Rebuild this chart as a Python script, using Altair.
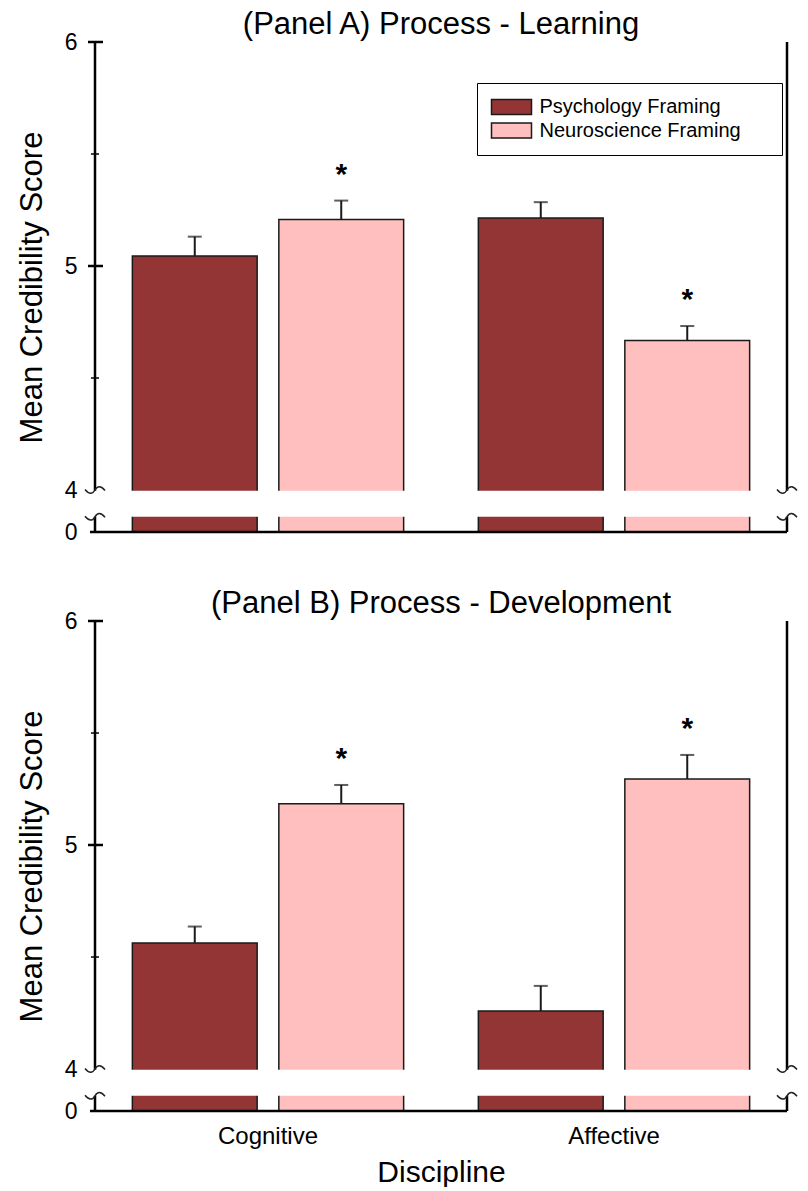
import altair as alt
import pandas as pd

# ---------------- data ----------------
panel_titles = ["(Panel A) Process - Learning", "(Panel B) Process - Development"]
disciplines = ["Cognitive", "Affective"]
framings = ["Psychology Framing", "Neuroscience Framing"]

a_psych_mean = [5.045, 5.214]
a_psych_err = [0.086, 0.071]
a_neuro_mean = [5.208, 4.667]
a_neuro_err = [0.084, 0.065]

b_psych_mean = [4.563, 4.259]
b_psych_err = [0.073, 0.112]
b_neuro_mean = [5.184, 5.295]
b_neuro_err = [0.084, 0.107]

psych_sig = [False, False]
neuro_sig = [True, True]

y_label_values = [0, 4, 5, 6]
y_major_ticks = [5, 6]
y_minor_ticks = [4.5, 5.5]

colors = ["#933535", "#FFBFBF"]

# ---------------- layout constants ----------------
W, H = 692, 490
BREAK_PX = 42
GAP_LO, GAP_HI = 1.45, 3.93
FONT = "Liberation Sans"
INK = "#1a1a1a"
SQUIGGLE = "M-1,-0.05C-0.6,0.45 -0.25,0.45 0,0C0.25,-0.45 0.6,-0.45 1,0.05"


def make_df(psych_mean, psych_err, neuro_mean, neuro_err):
    rows = []
    for i, d in enumerate(disciplines):
        rows.append({"Discipline": d, "Framing": framings[0], "Mean": psych_mean[i],
                     "Top": psych_mean[i] + psych_err[i], "Sig": psych_sig[i]})
        rows.append({"Discipline": d, "Framing": framings[1], "Mean": neuro_mean[i],
                     "Top": neuro_mean[i] + neuro_err[i], "Sig": neuro_sig[i]})
    return pd.DataFrame(rows)


def panel(df, title, show_x, show_legend):
    yscale = alt.Scale(domain=[0, 4, 6], range=[H, H - BREAK_PX, 0], nice=False, zero=False)
    yaxis = alt.Axis(values=y_label_values, format="d", domain=False, ticks=False, grid=False,
                     labelPadding=18, labelFontSize=23, labelFont=FONT, labelColor="black",
                     title="Mean Credibility Score", titleFontSize=31, titleFont=FONT,
                     titleFontWeight="normal", titleColor="black", titlePadding=16)
    if show_x:
        xaxis = alt.Axis(domain=False, ticks=False, labelAngle=0, labelPadding=13,
                         labelFontSize=24, labelFont=FONT, labelColor="black",
                         title="Discipline", titleFontSize=30, titleFont=FONT,
                         titleFontWeight="normal", titleColor="black", titlePadding=9)
    else:
        xaxis = None
    x = alt.X("Discipline:N", sort=disciplines, axis=xaxis,
              scale=alt.Scale(domain=disciplines, paddingInner=0, paddingOuter=0))
    xo = alt.XOffset("Framing:N", sort=framings,
                     scale=alt.Scale(domain=framings, paddingInner=0.148, paddingOuter=0.255))
    if show_legend:
        legend = alt.Legend(orient="none", legendX=382, legendY=41,
                            title=" ", titleOrient="right", titlePadding=27, titleFontSize=2,
                            symbolType="M-2.667,-1H2.667V1H-2.667Z", symbolSize=225,
                            symbolStrokeColor=INK, symbolStrokeWidth=1.5,
                            symbolOffset=10.5, labelOffset=18, labelLimit=500,
                            labelFontSize=20, labelFont=FONT, labelColor="black",
                            strokeColor="black", fillColor="white", padding=14, rowPadding=1.5)
    else:
        legend = None
    color = alt.Color("Framing:N", sort=framings,
                      scale=alt.Scale(domain=framings, range=colors), legend=legend)

    base = alt.Chart(df)
    bars = base.mark_bar(stroke=INK, strokeWidth=1.5).encode(
        x=x, xOffset=xo, y=alt.Y("Mean:Q", scale=yscale, axis=yaxis), y2=alt.datum(0), color=color)
    err = base.mark_rule(color=INK, strokeWidth=2).encode(
        x=x, xOffset=xo, y=alt.Y("Mean:Q", scale=yscale), y2="Top:Q")
    cap = base.mark_tick(orient="horizontal", size=14, thickness=2, color=INK).encode(
        x=x, xOffset=xo, y=alt.Y("Top:Q", scale=yscale))
    star = base.transform_filter("datum.Sig").mark_text(
        text="*", fontSize=30, font=FONT, fontWeight="bold", color="black",
        baseline="alphabetic", dy=-17).encode(
        x=x, xOffset=xo, y=alt.Y("Top:Q", scale=yscale))

    one = alt.Chart(pd.DataFrame({"k": [0]}))
    left_line = one.mark_rule(strokeWidth=2.5, color="black").encode(
        x=alt.value(0), y=alt.datum(0), y2=alt.datum(6))
    right_line = one.mark_rule(strokeWidth=2.5, color="black").encode(
        x=alt.value(W), y=alt.datum(0), y2=alt.datum(6))
    base_line = one.mark_rule(strokeWidth=2.5, color="black").encode(
        x=alt.value(-5), x2=alt.value(W), y=alt.datum(0))
    major = alt.Chart(pd.DataFrame({"t": y_major_ticks})).mark_rule(
        strokeWidth=2.5, color="black").encode(x=alt.value(-7), x2=alt.value(8), y="t:Q")
    minor = alt.Chart(pd.DataFrame({"t": y_minor_ticks})).mark_rule(
        strokeWidth=1.5, color="black").encode(x=alt.value(-4), x2=alt.value(4), y="t:Q")
    gap = one.mark_rect(color="white").encode(
        x=alt.value(-11), x2=alt.value(W + 3), y=alt.datum(GAP_LO), y2=alt.datum(GAP_HI))
    sq_df = alt.Chart(pd.DataFrame({"s": [4, GAP_LO]}))
    sq_left = sq_df.mark_point(shape=SQUIGGLE, size=400, filled=False, stroke="#222",
                               strokeWidth=1.5, opacity=1).encode(x=alt.value(0), y="s:Q")
    sq_right = sq_df.mark_point(shape=SQUIGGLE, size=400, filled=False, stroke="#222",
                                strokeWidth=1.5, opacity=1).encode(x=alt.value(W), y="s:Q")

    return alt.layer(bars, err, cap, star, left_line, right_line, base_line, major, minor,
                     gap, sq_left, sq_right).properties(
        width=W, height=H,
        title=alt.TitleParams(title, fontSize=31, font=FONT, fontWeight="normal",
                              color="black", anchor="middle", frame="group", offset=-9.5))


df_a = make_df(a_psych_mean, a_psych_err, a_neuro_mean, a_neuro_err)
df_b = make_df(b_psych_mean, b_psych_err, b_neuro_mean, b_neuro_err)

chart = alt.vconcat(
    panel(df_a, panel_titles[0], False, True),
    panel(df_b, panel_titles[1], True, False),
    spacing=43,
).resolve_legend(color="independent").properties(
    padding={"left": 8, "top": 0, "right": 0, "bottom": 0},
    background="white",
).configure_view(stroke=None)

chart.save("out.html", embed_options={"renderer": "svg", "actions": False})
